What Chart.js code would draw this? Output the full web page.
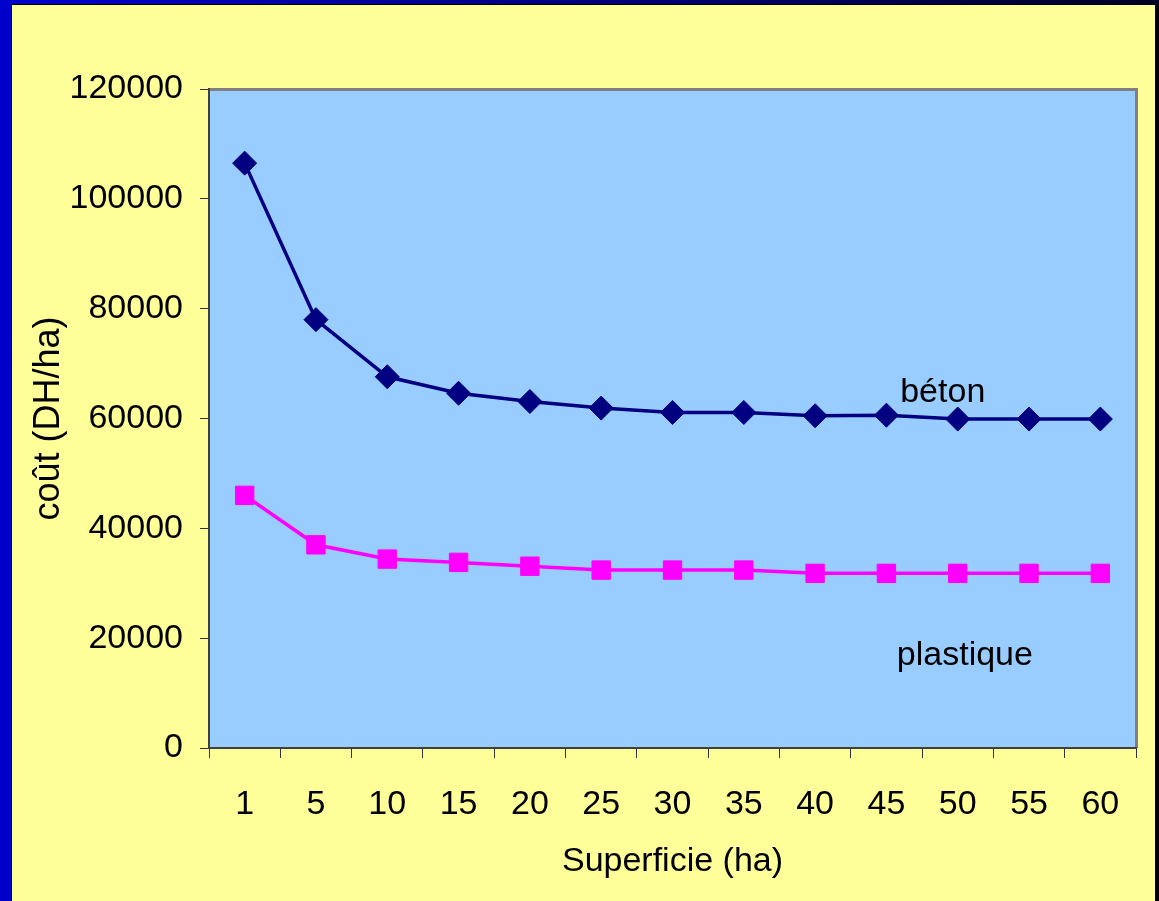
<!DOCTYPE html>
<html>
<head>
<meta charset="utf-8">
<script src="https://cdn.jsdelivr.net/npm/chart.js@4/dist/chart.umd.min.js"></script>
<style>
  html, body { margin: 0; padding: 0; background: #ffff99; }
  canvas { display: block; }
</style>
</head>
<body>
<canvas id="chart" width="1159" height="901"></canvas>
<script>
const superficie = ['1', '5', '10', '15', '20', '25', '30', '35', '40', '45', '50', '55', '60'];
const beton = [106500, 78000, 67600, 64600, 63100, 61900, 61100, 61100, 60500, 60600, 59900, 59900, 59900];
const plastique = [46000, 37000, 34400, 33800, 33100, 32400, 32400, 32400, 31800, 31800, 31800, 31800, 31800];
const yTicks = [0, 20000, 40000, 60000, 80000, 100000, 120000];

// series labels written inside the plot: [text, category index, value]
const seriesLabels = [
  ['béton', 9.79, 64800],
  ['plastique', 10.1, 16750]
];

const FONT = '"Liberation Sans", Arial, sans-serif';

const slideBackground = {
  id: 'slideBackground',
  beforeDraw(chart) {
    const { ctx, width, height, chartArea: a } = chart;
    ctx.save();
    ctx.fillStyle = '#ffff99';
    ctx.fillRect(0, 0, width, height);
    // slide frame
    const g = ctx.createLinearGradient(0, 0, width, 0);
    g.addColorStop(0, '#0000cc');
    g.addColorStop(0.5, '#000080');
    g.addColorStop(1, '#000022');
    ctx.fillStyle = g;
    ctx.fillRect(0, 0, width, 5);
    ctx.fillStyle = '#0000cc';
    ctx.fillRect(0, 0, 11, height);
    ctx.fillStyle = '#000000';
    ctx.fillRect(11, 4, 1, height);
    ctx.fillRect(11, 4, width, 1);
    ctx.fillRect(width - 4, 4, 4, height);
    // plot area
    ctx.fillStyle = '#99ccff';
    ctx.fillRect(a.left, a.top, a.right - a.left, a.bottom - a.top);
    ctx.strokeStyle = '#808080';
    ctx.lineWidth = 3;
    ctx.beginPath();
    ctx.moveTo(a.left, a.top + 0.5);
    ctx.lineTo(a.right + 0.5, a.top + 0.5);
    ctx.lineTo(a.right + 0.5, a.bottom);
    ctx.stroke();
    ctx.restore();
  },
  afterDatasetsDraw(chart) {
    const { ctx, scales: { x, y } } = chart;
    ctx.save();
    ctx.fillStyle = '#000000';
    ctx.font = '34px ' + FONT;
    ctx.textAlign = 'center';
    ctx.textBaseline = 'middle';
    seriesLabels.forEach(([text, idx, val]) => {
      ctx.fillText(text, x.getPixelForValue(idx), y.getPixelForValue(val));
    });
    ctx.restore();
  }
};

new Chart(document.getElementById('chart'), {
  type: 'line',
  plugins: [slideBackground],
  data: {
    labels: superficie,
    datasets: [
      {
        label: 'béton',
        data: beton,
        borderColor: '#000080',
        backgroundColor: '#000080',
        borderWidth: 3.5,
        pointStyle: 'rectRot',
        pointRadius: 12,
        pointBorderWidth: 1,
        tension: 0
      },
      {
        label: 'plastique',
        data: plastique,
        borderColor: '#ff00ff',
        backgroundColor: '#ff00ff',
        borderWidth: 3.5,
        pointStyle: 'rect',
        pointRadius: 13,
        pointBorderWidth: 1,
        tension: 0
      }
    ]
  },
  options: {
    responsive: false,
    animation: false,
    layout: {
      padding: { top: 89, right: 23, bottom: 0, left: 0 }
    },
    plugins: {
      legend: { display: false },
      tooltip: { enabled: false }
    },
    scales: {
      x: {
        offset: true,
        afterFit(scale) { scale.height = 153; },
        grid: {
          offset: true,
          drawOnChartArea: false,
          drawTicks: true,
          tickLength: 10,
          color: '#333333'
        },
        border: { display: true, color: '#404040', width: 2 },
        ticks: {
          color: '#000000',
          font: { family: FONT, size: 34 },
          padding: 26,
          maxRotation: 0,
          autoSkip: false
        },
        title: {
          display: true,
          text: 'Superficie (ha)',
          color: '#000000',
          font: { family: FONT, size: 34 },
          padding: { top: 0, bottom: 19 }
        }
      },
      y: {
        min: 0,
        max: 120000,
        afterFit(scale) { scale.width = 209; },
        afterBuildTicks(scale) {
          scale.ticks = yTicks.map(v => ({ value: v }));
        },
        grid: {
          drawOnChartArea: false,
          drawTicks: true,
          tickLength: 9,
          color: '#333333'
        },
        border: { display: true, color: '#404040', width: 2 },
        ticks: {
          color: '#000000',
          font: { family: FONT, size: 34 },
          padding: 17,
          callback: v => String(v)
        },
        title: {
          display: true,
          text: 'coût (DH/ha)',
          color: '#000000',
          font: { family: FONT, size: 36 },
          padding: { top: 27, bottom: 0 }
        }
      }
    }
  }
});
</script>
</body>
</html>
